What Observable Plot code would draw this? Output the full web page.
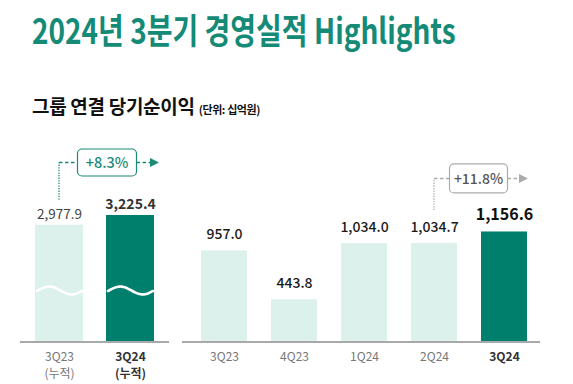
<!DOCTYPE html>
<html><head><meta charset="utf-8">
<script src="https://cdn.jsdelivr.net/npm/d3@7"></script>
<script src="https://cdn.jsdelivr.net/npm/@observablehq/plot@0.6"></script>
<style>
body{margin:0;width:573px;height:384px;position:relative;overflow:hidden;background:#fff;font-family:"Noto Sans CJK KR","Noto Sans",sans-serif;}
#title{position:absolute;left:32px;top:11px;font-size:35px;font-weight:700;color:#148a77;white-space:nowrap;transform:scaleX(0.8);transform-origin:0 0;line-height:1;}
#sub{position:absolute;left:32px;top:95.5px;font-size:19px;font-weight:700;color:#111;white-space:nowrap;line-height:1;letter-spacing:-0.3px}
#sub span{font-size:11px;letter-spacing:-0.4px}
#left{position:absolute;left:0;top:140px}
#right{position:absolute;left:180px;top:140px}
svg{overflow:visible}
</style></head><body>
<div id="title">2024년 3분기 경영실적 Highlights</div>
<div id="sub">그룹 연결 당기순이익 <span>(단위: 십억원)</span></div>
<div id="left"></div><div id="right"></div>
<script>
// ---- data ----
const cumCategories = ["3Q23 누적", "3Q24 누적"];
const cumTicks = ["3Q23", "3Q24"];
const cumTickNotes = ["(누적)", "(누적)"];
const cumValues = [2977.9, 3225.4];
const cumLabels = ["2,977.9", "3,225.4"];
const cumGrowth = "+8.3%";

const qCategories = ["3Q23", "4Q23", "1Q24", "2Q24", "3Q24"];
const qValues = [957.0, 443.8, 1034.0, 1034.7, 1156.6];
const qLabels = ["957.0", "443.8", "1,034.0", "1,034.7", "1,156.6"];
const qGrowth = "+11.8%";

// ---- styles ----
const DARK = "#007f6d", LIGHT = "#dcf0ec";
const FONT = '"Noto Sans CJK KR","Noto Sans",sans-serif';

const cumData = cumCategories.map((c, i) => ({cat: c, value: cumValues[i], label: cumLabels[i], tick: cumTicks[i], note: cumTickNotes[i], current: i === cumCategories.length - 1}));
const qData = qCategories.map((c, i) => ({cat: c, value: qValues[i], label: qLabels[i], tick: qCategories[i], current: i === qCategories.length - 1}));

function growthAnnotation(o) {
  return (index, scales, values, dimensions) => {
    const x = scales.x, y = scales.y, bw = x.bandwidth();
    const g = d3.create("svg:g");
    const fx = x(o.from) + bw / 2;
    const toEnd = x(o.to) + bw + o.arrowPast;
    const yl = y(o.toValue) - o.levelAbove;
    const yStart = y(o.fromValue) - o.startAbove;
    const bx0 = fx + o.boxOffset, bx1 = bx0 + o.boxWidth;
    g.append("path").attr("d", `M${fx},${yStart}V${yl}`).attr("stroke", o.color).attr("stroke-width", 1.3).attr("stroke-dasharray", "1.3,1.3").attr("fill", "none");
    g.append("path").attr("d", `M${fx},${yl}H${bx0}M${bx1},${yl}H${toEnd - 8}`).attr("stroke", o.color).attr("stroke-width", 1.5).attr("stroke-dasharray", "3.5,2.5").attr("fill", "none");
    g.append("path").attr("d", `M${toEnd - 9},${yl - 4.5}L${toEnd},${yl}L${toEnd - 9},${yl + 4.5}Z`).attr("fill", o.color);
    g.append("rect").attr("x", bx0).attr("y", yl - o.boxHeight / 2).attr("width", o.boxWidth).attr("height", o.boxHeight).attr("rx", 4.5).attr("fill", "#fff").attr("stroke", o.color).attr("stroke-width", 1.2);
    g.append("text").attr("x", (bx0 + bx1) / 2).attr("y", yl).attr("dy", "0.36em").attr("text-anchor", "middle").attr("font-size", o.fontSize).attr("font-weight", 500).attr("fill", o.textColor).text(o.text);
    return g.node();
  };
}

function waves(cats) {
  return (index, scales, values, dimensions) => {
    const x = scales.x, bw = x.bandwidth();
    const base = dimensions.height - dimensions.marginBottom;
    const g = d3.create("svg:g");
    for (const c of cats) {
      const x0 = x(c) + 2, x1 = x(c) + bw - 1, cy = base - 51, A = 4;
      const pts = d3.range(0, 1.0001, 0.05).map(t => [x0 + t * (x1 - x0), cy - A * Math.cos(2 * Math.PI * (t - 0.27))]);
      g.append("path").attr("d", d3.line().curve(d3.curveBasis)(pts)).attr("fill", "none").attr("stroke", "#fff").attr("stroke-width", 2.6).attr("stroke-linecap", "round");
    }
    return g.node();
  };
}

const left = Plot.plot({
  width: 180, height: 244, marginLeft: 20, marginRight: 11, marginTop: 0, marginBottom: 42.5,
  x: {domain: cumCategories, paddingInner: 0.32, paddingOuter: 0.2, axis: null},
  y: {domain: [0, 5138], axis: null},
  style: {fontFamily: FONT, background: "transparent", overflow: "visible"},
  marks: [
    Plot.barY(cumData, {x: "cat", y: "value", fill: LIGHT, filter: d => !d.current}),
    Plot.barY(cumData, {x: "cat", y: "value", fill: DARK, filter: d => d.current}),
    waves(cumCategories),
    Plot.ruleY([0], {stroke: "#a9a9a9", strokeWidth: 2}),
    Plot.text(cumData, {x: "cat", y: "value", text: "label", filter: d => !d.current, lineAnchor: "bottom", dy: -6, fontSize: 13.5, fontWeight: 400, fill: "#444"}),
    Plot.text(cumData, {x: "cat", y: "value", text: "label", filter: d => d.current, lineAnchor: "bottom", dy: -6.5, fontSize: 14, fontWeight: 700, fill: "#333"}),
    Plot.text(cumData, {x: "cat", text: "tick", frameAnchor: "bottom", lineAnchor: "top", dy: 10.2, fontSize: 12, fill: "#777", filter: d => !d.current}),
    Plot.text(cumData, {x: "cat", text: "note", frameAnchor: "bottom", lineAnchor: "top", dy: 27.8, fontSize: 12, fill: "#777", filter: d => !d.current}),
    Plot.text(cumData, {x: "cat", text: "tick", frameAnchor: "bottom", lineAnchor: "top", dy: 10.2, fontSize: 12, fontWeight: 700, fill: "#333", filter: d => d.current}),
    Plot.text(cumData, {x: "cat", text: "note", frameAnchor: "bottom", lineAnchor: "top", dy: 27.8, fontSize: 12, fontWeight: 700, fill: "#333", filter: d => d.current}),
    growthAnnotation({from: cumCategories[0], to: cumCategories[1], fromValue: cumValues[0], toValue: cumValues[1], text: cumGrowth, color: "#1a8a76", textColor: "#1a8a76", startAbove: 25, levelAbove: 52.5, boxOffset: 18.5, boxWidth: 59, boxHeight: 27, arrowPast: 5, fontSize: 14.5})
  ]
});
document.getElementById("left").appendChild(left);

const right = Plot.plot({
  width: 393, height: 244, marginLeft: 2, marginRight: 33, marginTop: 0, marginBottom: 42.5,
  x: {domain: qCategories, paddingInner: 0.336, paddingOuter: 0.198, align: 0.607, axis: null},
  y: {domain: [0, 2118], axis: null},
  style: {fontFamily: FONT, background: "transparent", overflow: "visible"},
  marks: [
    Plot.barY(qData, {x: "cat", y: "value", fill: LIGHT, filter: d => !d.current}),
    Plot.barY(qData, {x: "cat", y: "value", fill: DARK, filter: d => d.current}),
    Plot.ruleY([0], {stroke: "#a9a9a9", strokeWidth: 2}),
    Plot.text(qData, {x: "cat", y: "value", text: "label", filter: d => !d.current, lineAnchor: "bottom", dy: -11.5, fontSize: 14, fontWeight: 500, fill: "#1a1a1a"}),
    Plot.text(qData, {x: "cat", y: "value", text: "label", filter: d => d.current, lineAnchor: "bottom", dy: -11.5, fontSize: 16, fontWeight: 700, fill: "#111"}),
    Plot.text(qData, {x: "cat", text: "tick", frameAnchor: "bottom", lineAnchor: "top", dy: 10, fontSize: 12, fill: "#777", filter: d => !d.current}),
    Plot.text(qData, {x: "cat", text: "tick", frameAnchor: "bottom", lineAnchor: "top", dy: 10, fontSize: 12, fontWeight: 700, fill: "#333", filter: d => d.current}),
    growthAnnotation({from: qCategories[3], to: qCategories[4], fromValue: qValues[3], toValue: qValues[4], text: qGrowth, color: "#ababab", textColor: "#555", startAbove: 33, levelAbove: 53, boxOffset: 15.5, boxWidth: 58, boxHeight: 29, arrowPast: 1, fontSize: 14})
  ]
});
document.getElementById("right").appendChild(right);
</script>
</body></html>
